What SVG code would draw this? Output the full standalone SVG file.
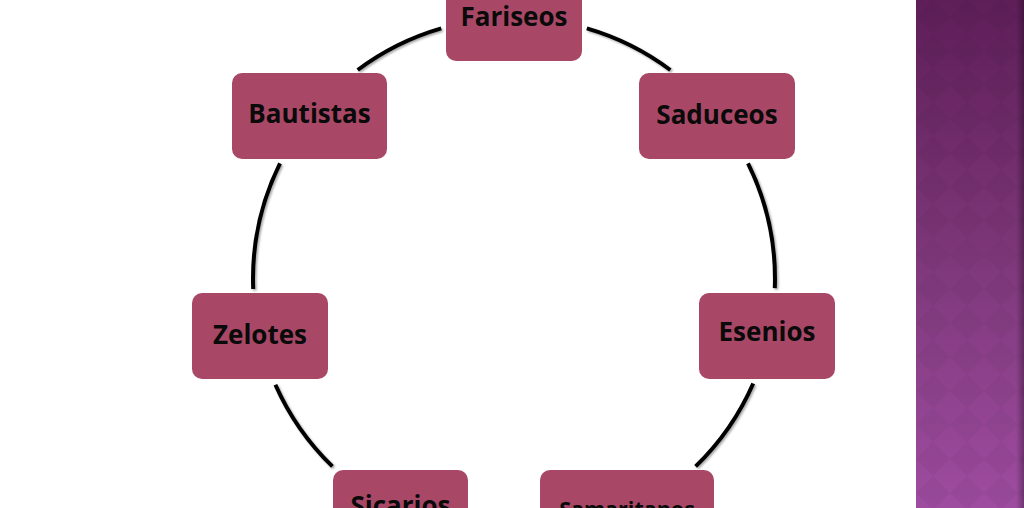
<svg xmlns="http://www.w3.org/2000/svg" width="1024" height="508" viewBox="0 0 1024 508">
  <defs>
    <style>
      .node rect { fill: #A84866; }
      .node text { font-family: "Open Sans", "Liberation Sans", sans-serif; font-weight: bold; font-size: 26px; fill: #0A0A0A; text-anchor: middle; }
      .arc { fill: none; stroke: #000; stroke-width: 4; stroke-linecap: butt; }
      .arcShadow { fill: none; stroke: #000; stroke-opacity: 0.35; stroke-width: 4; }
    </style>
    <linearGradient id="panelGrad" x1="0" y1="0" x2="0" y2="1">
      <stop offset="0" stop-color="#5E1E58"/>
      <stop offset="0.5" stop-color="#7D3779"/>
      <stop offset="1" stop-color="#9E4CA0"/>
    </linearGradient>
    <pattern id="diamonds" x="916" y="0" width="34" height="34" patternUnits="userSpaceOnUse">
      <path d="M17 0 L34 17 L17 34 L0 17 Z" fill="#000" fill-opacity="0.035"/>
    </pattern>
    <linearGradient id="edgeGrad" x1="0" y1="0" x2="1" y2="0">
      <stop offset="0" stop-color="#000" stop-opacity="0"/>
      <stop offset="1" stop-color="#000" stop-opacity="0.3"/>
    </linearGradient>
    <filter id="soft" x="-10%" y="-10%" width="120%" height="120%">
      <feGaussianBlur stdDeviation="1.2"/>
    </filter>
  </defs>

  <rect x="0" y="0" width="1024" height="508" fill="#FFFFFF"/>

  <g id="side-panel">
    <rect x="916" y="0" width="108" height="508" fill="url(#panelGrad)"/>
    <rect x="916" y="0" width="108" height="508" fill="url(#diamonds)"/>
    <rect x="1016" y="0" width="8" height="508" fill="url(#edgeGrad)"/>
  </g>

  <g id="connectors">
    <g filter="url(#soft)" transform="translate(1.5,1.5)">
      <path class="arcShadow" d="M586.8 28.4 A261 261 0 0 1 670.3 70.0"/>
      <path class="arcShadow" d="M748.0 163.4 A261 261 0 0 1 774.8 288.1"/>
      <path class="arcShadow" d="M753.2 383.5 A261 261 0 0 1 695.6 466.4"/>
      <path class="arcShadow" d="M332.4 466.4 A261 261 0 0 1 275.4 384.7"/>
      <path class="arcShadow" d="M253.2 289.0 A261 261 0 0 1 280.0 163.4"/>
      <path class="arcShadow" d="M357.7 70.0 A261 261 0 0 1 441.2 28.4"/>
    </g>
    <path class="arc" d="M586.8 28.4 A261 261 0 0 1 670.3 70.0"/>
    <path class="arc" d="M748.0 163.4 A261 261 0 0 1 774.8 288.1"/>
    <path class="arc" d="M753.2 383.5 A261 261 0 0 1 695.6 466.4"/>
    <path class="arc" d="M534.9 539.2 A261 261 0 0 1 472.7 536.7"/>
    <path class="arc" d="M332.4 466.4 A261 261 0 0 1 275.4 384.7"/>
    <path class="arc" d="M253.2 289.0 A261 261 0 0 1 280.0 163.4"/>
    <path class="arc" d="M357.7 70.0 A261 261 0 0 1 441.2 28.4"/>
  </g>

  <g id="node-fariseos" class="node">
    <rect x="446" y="-25" width="136" height="86" rx="10"/>
    <text x="514" y="26">Fariseos</text>
  </g>
  <g id="node-saduceos" class="node">
    <rect x="639" y="73" width="156" height="86" rx="10"/>
    <text x="717" y="124">Saduceos</text>
  </g>
  <g id="node-esenios" class="node">
    <rect x="699" y="293" width="136" height="86" rx="10"/>
    <text x="767" y="341">Esenios</text>
  </g>
  <g id="node-samaritanos" class="node">
    <rect x="540" y="470" width="174" height="86" rx="10"/>
    <text x="627" y="517" style="font-size:21.5px">Samaritanos</text>
  </g>
  <g id="node-sicarios" class="node">
    <rect x="333" y="470" width="135" height="86" rx="10"/>
    <text x="400.5" y="515">Sicarios</text>
  </g>
  <g id="node-zelotes" class="node">
    <rect x="192" y="293" width="136" height="86" rx="10"/>
    <text x="260" y="344">Zelotes</text>
  </g>
  <g id="node-bautistas" class="node">
    <rect x="232" y="73" width="155" height="86" rx="10"/>
    <text x="309.5" y="123">Bautistas</text>
  </g>
</svg>
